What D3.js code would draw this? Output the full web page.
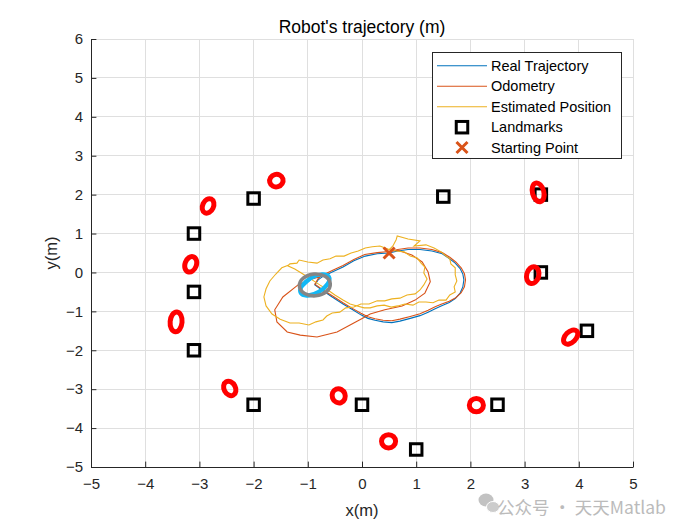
<!DOCTYPE html>
<html><head><meta charset="utf-8">
<script src="https://cdn.jsdelivr.net/npm/d3@7"></script>
<style>
body{margin:0;background:#fff}
svg{display:block}
text{font-family:"Liberation Sans",Arial,Helvetica,sans-serif}
</style>
</head><body>
<svg id="c" width="700" height="525"></svg>
<script>
// ---------------- data ----------------
const xTicks = [-5,-4,-3,-2,-1,0,1,2,3,4,5];
const yTicks = [-5,-4,-3,-2,-1,0,1,2,3,4,5,6];
const seriesNames = ["Real Trajectory","Odometry","Estimated Position","Landmarks","Starting Point"];

const landmarks = [[-2,1.9],[1.5,1.95],[3.3,2.0],[-3.1,1.0],[3.3,0.0],[-3.1,-0.5],
  [4.15,-1.5],[-3.1,-2.0],[-2,-3.4],[0,-3.4],[2.5,-3.4],[1,-4.55]];

// estimated landmarks: [x, y, semi-axis x, semi-axis y, rotation deg]
const landmarkEstimates = [
  [-1.58,2.36,0.125,0.160,-15],
  [-2.84,1.71,0.100,0.195,25],
  [-3.16,0.21,0.105,0.205,20],
  [-3.43,-1.27,0.110,0.255,5],
  [-2.44,-2.98,0.105,0.195,-28],
  [3.25,2.06,0.105,0.245,-15],
  [3.15,-0.07,0.112,0.220,15],
  [3.85,-1.66,0.098,0.220,45],
  [-0.43,-3.17,0.120,0.185,-20],
  [2.11,-3.41,0.130,0.172,0],
  [0.49,-4.34,0.130,0.172,0]
];

const startPoint = [0.5,0.5];

const realX = [0.50,0.66,0.85,1.07,1.29,1.48,1.61,1.72,1.81,1.86,1.88,1.86,1.81,1.72,1.61,1.46,1.35,1.22,1.07,0.89,0.70,0.55,0.39,0.24,0.11,-0.02,-0.17,-0.35,-0.55,-0.74,-0.87,-0.81,-0.74,-0.55,-0.35,-0.15,0.06,0.28,0.50];
const realY = [0.50,0.55,0.59,0.59,0.55,0.48,0.36,0.24,0.10,-0.04,-0.19,-0.37,-0.53,-0.67,-0.77,-0.86,-0.93,-1.02,-1.11,-1.18,-1.25,-1.29,-1.27,-1.23,-1.18,-1.09,-0.96,-0.81,-0.63,-0.45,-0.32,-0.19,-0.12,0.01,0.14,0.30,0.42,0.48,0.50];

const odoX = [0.50,0.66,0.85,1.07,1.29,1.48,1.62,1.73,1.83,1.89,1.91,1.89,1.83,1.73,1.61,1.46,1.35,1.22,1.07,0.89,0.70,0.55,0.39,0.24,0.11,-0.02,-0.17,-0.35,-0.55,-0.74,-0.87,-0.81,-0.74,-0.55,-0.35,-0.15,0.05,0.28,0.50,
  0.66,0.92,1.11,1.22,1.26,1.16,0.98,0.74,0.42,0.15,0.02,-0.22,-0.46,-0.83,-1.14,-1.38,-1.57,-1.61,-1.46,-1.18,-0.96,-0.74];
const odoY = [0.54,0.59,0.63,0.63,0.59,0.51,0.39,0.27,0.12,-0.03,-0.19,-0.37,-0.52,-0.65,-0.74,-0.82,-0.88,-0.97,-1.06,-1.13,-1.20,-1.24,-1.23,-1.19,-1.14,-1.05,-0.93,-0.78,-0.60,-0.43,-0.30,-0.16,-0.08,0.05,0.18,0.33,0.46,0.51,0.54,
  0.57,0.45,0.27,0.01,-0.24,-0.53,-0.71,-0.86,-0.96,-1.07,-1.17,-1.35,-1.53,-1.66,-1.61,-1.53,-1.27,-0.96,-0.63,-0.32,-0.19,-0.09];

const estX = [0.50,0.57,0.63,0.65,0.85,1.07,0.96,1.18,1.33,1.46,1.55,1.62,1.64,1.72,1.72,1.75,1.70,1.72,1.62,1.55,1.42,1.31,1.18,1.05,0.94,0.79,0.66,0.54,0.41,0.28,0.15,0.04,
  -0.09,-0.22,-0.35,-0.50,-0.63,-0.78,-0.92,-1.09,-1.24,-1.37,
  -1.33,-1.20,-1.16,-1.00,-0.83,-0.72,-0.59,-0.48,-0.33,-0.20,-0.07,0.06,0.19,0.33,0.48,
  0.63,0.78,0.89,1.02,1.09,1.16,1.14,1.20,1.14,1.07,0.98,0.83,0.70,0.55,0.42,0.28,0.13,-0.02,-0.15,-0.30,-0.41,-0.55,-0.65,-0.72,-0.85,-0.98,-1.16,-1.33,-1.51,-1.66,-1.77,-1.81,-1.77,-1.70,-1.59,-1.48,-1.35];
const estY = [0.58,0.68,0.84,0.94,0.86,0.81,0.68,0.71,0.63,0.53,0.42,0.35,0.22,0.12,-0.06,-0.22,-0.37,-0.50,-0.58,-0.71,-0.71,-0.78,-0.76,-0.76,-0.84,-0.81,-0.86,-0.89,-0.84,-0.86,-0.91,-0.91,
  -0.86,-0.81,-0.71,-0.58,-0.45,-0.32,-0.19,-0.04,0.09,0.17,
  0.22,0.24,0.32,0.27,0.24,0.32,0.35,0.42,0.42,0.50,0.55,0.63,0.66,0.68,0.60,
  0.55,0.53,0.42,0.37,0.24,0.14,-0.01,-0.17,-0.32,-0.45,-0.55,-0.58,-0.66,-0.68,-0.73,-0.73,-0.81,-0.81,-0.89,-0.91,-1.02,-1.04,-1.12,-1.22,-1.27,-1.35,-1.30,-1.30,-1.20,-1.07,-0.86,-0.63,-0.42,-0.22,-0.04,0.12,0.19];

// robot pose uncertainty: [x, y, semi-axis x, semi-axis y, rotation deg]
const robotPoseCov = [-0.87,-0.32,0.285,0.280,-5];
const robotEstCov = [-0.87,-0.32,0.300,0.205,-30];
const robotHeadingX = [-1.10,-0.89];
const robotHeadingY = [-0.35,-0.09];

// ---------------- layout ----------------
const svg = d3.select("#c");
const L = 91, R = 633, T = 39, B = 467;
const x = d3.scaleLinear().domain([-5,5]).range([L,R]);
const y = d3.scaleLinear().domain([-5,6]).range([B,T]);
const axisColor = "#262626";
const gridColor = "#dfdfdf";
const cBlue = "#0072BD", cRed = "#D95319", cYel = "#EDB120";

svg.append("rect").attr("width",700).attr("height",525).attr("fill","#fff");

// grid
const grid = svg.append("g");
grid.selectAll("line.gx").data(xTicks).join("line")
  .attr("x1",d=>x(d)).attr("x2",d=>x(d)).attr("y1",T).attr("y2",B)
  .attr("stroke",gridColor).attr("stroke-width",1).attr("shape-rendering","crispEdges");
grid.selectAll("line.gy").data(yTicks).join("line")
  .attr("y1",d=>y(d)).attr("y2",d=>y(d)).attr("x1",L).attr("x2",R)
  .attr("stroke",gridColor).attr("stroke-width",1).attr("shape-rendering","crispEdges");

// trajectories
const line = d3.line().x(d=>x(d[0])).y(d=>y(d[1]));
const zip = (a,b)=>a.map((v,i)=>[v,b[i]]);
const plot = svg.append("g");
plot.append("path").attr("d",line(zip(realX,realY))).attr("fill","none").attr("stroke",cBlue).attr("stroke-width",1.1);
plot.append("path").attr("d",line(zip(odoX,odoY))).attr("fill","none").attr("stroke",cRed).attr("stroke-width",1.1);
plot.append("path").attr("d",line(zip(estX,estY))).attr("fill","none").attr("stroke",cYel).attr("stroke-width",1.1);

// landmarks
const sq = 11.5;
plot.selectAll("rect.lm").data(landmarks).join("rect")
  .attr("x",d=>x(d[0])-sq/2).attr("y",d=>y(d[1])-sq/2).attr("width",sq).attr("height",sq)
  .attr("fill","none").attr("stroke","#000").attr("stroke-width",3);

// landmark estimate ellipses
plot.selectAll("ellipse.le").data(landmarkEstimates).join("ellipse")
  .attr("cx",0).attr("cy",0)
  .attr("rx",d=>x(d[2])-x(0)).attr("ry",d=>y(0)-y(d[3]))
  .attr("transform",d=>`translate(${x(d[0])},${y(d[1])}) rotate(${d[4]})`)
  .attr("fill","none").attr("stroke","#FF0000").attr("stroke-width",5);

// robot ellipses
const ell = (g,c,col,w)=>g.append("ellipse").attr("cx",0).attr("cy",0)
  .attr("rx",x(c[2])-x(0)).attr("ry",y(0)-y(c[3]))
  .attr("transform",`translate(${x(c[0])},${y(c[1])}) rotate(${c[4]})`)
  .attr("fill","none").attr("stroke",col).attr("stroke-width",w);
ell(plot,robotEstCov,"#12B8F5",4.2);
plot.append("path").attr("d",line(zip(robotHeadingX,robotHeadingY))).attr("stroke","#12B8F5").attr("stroke-width",3).attr("fill","none");
ell(plot,robotPoseCov,"#858585",3.6);

// start point
const xm = (g,cx,cy,s,col)=>g.append("path")
  .attr("d",`M${cx-s},${cy-s}L${cx+s},${cy+s}M${cx-s},${cy+s}L${cx+s},${cy-s}`)
  .attr("stroke",col).attr("stroke-width",3).attr("fill","none");
xm(plot,x(startPoint[0]),y(startPoint[1]),5.5,cRed);

// axes
const ax = d3.axisBottom(x).tickValues(xTicks).tickSize(-5.4).tickPadding(9).tickSizeOuter(0);
const gx = svg.append("g").attr("transform",`translate(0,${B})`).call(ax);
const ay = d3.axisLeft(y).tickValues(yTicks).tickSize(-5.4).tickPadding(8).tickSizeOuter(0);
const gy = svg.append("g").attr("transform",`translate(${L},0)`).call(ay);
[gx,gy].forEach(g=>{
  g.select(".domain").attr("stroke",axisColor).attr("stroke-width",1);
  g.selectAll(".tick line").attr("stroke",axisColor);
  g.selectAll(".tick text").attr("fill",axisColor).style("font-size","15px")
   .style("font-family",'"Liberation Sans",Arial,sans-serif');
});
gx.selectAll(".tick text").attr("dy","0.85em");

// labels
svg.append("text").attr("x",(L+R)/2).attr("y",33).attr("text-anchor","middle")
  .style("font-size","17.5px").attr("fill","#000").text("Robot's trajectory (m)");
svg.append("text").attr("x",(L+R)/2).attr("y",516).attr("text-anchor","middle")
  .style("font-size","16.5px").attr("fill",axisColor).text("x(m)");
svg.append("text").attr("transform",`translate(57,${(T+B)/2}) rotate(-90)`).attr("text-anchor","middle")
  .style("font-size","16.5px").attr("fill",axisColor).text("y(m)");

// legend
const lg = svg.append("g");
lg.append("rect").attr("x",432.5).attr("y",52.5).attr("width",189).attr("height",106)
  .attr("fill","#fff").attr("stroke","#262626").attr("stroke-width",1);
const rowsY = [65.7,86.2,106.7,127.2,147.5];
const cols = [cBlue,cRed,cYel];
seriesNames.forEach((n,i)=>{
  const yy = rowsY[i];
  if(i<3){
    lg.append("line").attr("x1",437).attr("x2",487).attr("y1",yy).attr("y2",yy)
      .attr("stroke",cols[i]).attr("stroke-width",1.1);
  } else if(i===3){
    lg.append("rect").attr("x",462-sq/2).attr("y",yy-sq/2).attr("width",sq).attr("height",sq)
      .attr("fill","none").attr("stroke","#000").attr("stroke-width",3);
  } else {
    xm(lg,462,yy,5.5,cRed);
  }
  lg.append("text").attr("x",491).attr("y",yy+5.2).style("font-size","14.5px").attr("fill","#000").text(n);
});

// watermark
const wm = svg.append("g").attr("opacity",0.85);
wm.append("ellipse").attr("cx",486).attr("cy",500).attr("rx",7.5).attr("ry",6.5).attr("fill","#b8b8b8");
wm.append("ellipse").attr("cx",493).attr("cy",507).attr("rx",6.5).attr("ry",5.5).attr("fill","#c4c4c4").attr("stroke","#fff").attr("stroke-width",1);
wm.append("text").attr("x",497).attr("y",514).style("font-family",'"Noto Sans CJK SC",sans-serif')
  .style("font-size","17.5px").attr("fill","#b0b0b0").text("公众号 · 天天Matlab");
</script>
</body></html>
